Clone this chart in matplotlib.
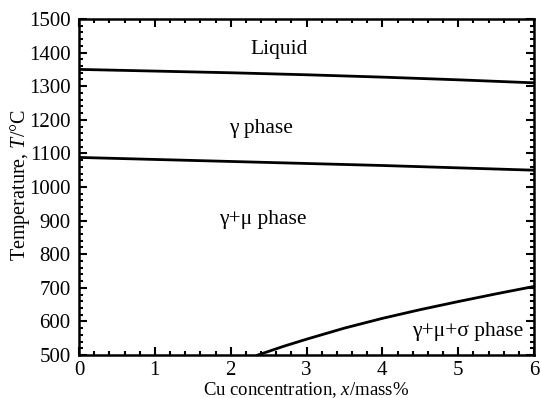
import matplotlib
matplotlib.use("Agg")
import matplotlib.pyplot as plt
from matplotlib.ticker import MultipleLocator

# Phase boundaries (Cu mass% vs temperature in °C)
liquidus_x = [0, 1, 2, 3, 4, 5, 6]
liquidus_t = [1350, 1345, 1340, 1334, 1327, 1319, 1310]

solvus_x = [0, 1, 2, 3, 4, 5, 6]
solvus_t = [1088, 1082, 1076, 1070, 1064, 1057, 1050]

sigma_x = [2.36, 2.7, 3.0, 3.5, 4.0, 4.5, 5.0, 5.5, 6.0]
sigma_t = [500, 526, 547, 580, 609, 635, 659, 682, 704]

phase_labels = ["Liquid", "γ phase", "γ+μ phase", "γ+μ+σ phase"]
label_x = [2.64, 2.4, 2.43, 5.12]
label_t = [1408, 1173, 902, 571]

plt.rcParams["font.family"] = ["Liberation Serif", "DejaVu Serif"]
plt.rcParams["mathtext.fontset"] = "custom"
plt.rcParams["mathtext.rm"] = "Liberation Serif"
plt.rcParams["mathtext.it"] = "Liberation Serif:italic"

fig = plt.figure(figsize=(5.41, 3.98), dpi=100)
ax = fig.add_axes([79 / 541, 43 / 398, 455 / 541, 336 / 398])

for xs, ts in [(liquidus_x, liquidus_t), (solvus_x, solvus_t), (sigma_x, sigma_t)]:
    ax.plot(xs, ts, color="black", lw=2.0, solid_joinstyle="round")

for txt, x, t in zip(phase_labels, label_x, label_t):
    ax.text(x, t, txt, ha="center", va="center", fontsize=15.5)

ax.set_xlim(0, 6)
ax.set_ylim(500, 1500)
ax.xaxis.set_major_locator(MultipleLocator(1))
ax.xaxis.set_minor_locator(MultipleLocator(0.2))
ax.yaxis.set_major_locator(MultipleLocator(100))
ax.yaxis.set_minor_locator(MultipleLocator(20))
ax.tick_params(which="both", direction="in", top=True, right=True, width=1.5)
ax.tick_params(which="major", length=6, labelsize=15)
ax.tick_params(which="minor", length=3)
ax.tick_params(axis="x", which="major", pad=4.5)
ax.tick_params(axis="y", which="major", pad=6)
for s in ax.spines.values():
    s.set_linewidth(1.8)

ax.set_xlabel("Cu concentration, $\\mathit{x}$/mass%", fontsize=13.5)
ax.set_ylabel("Temperature, $\\mathit{T}$/°C", fontsize=14.5)
ax.xaxis.set_label_coords(0.5, -0.074)
ax.yaxis.set_label_coords(-0.104, 0.507)

fig.savefig("out.png", dpi=100)
